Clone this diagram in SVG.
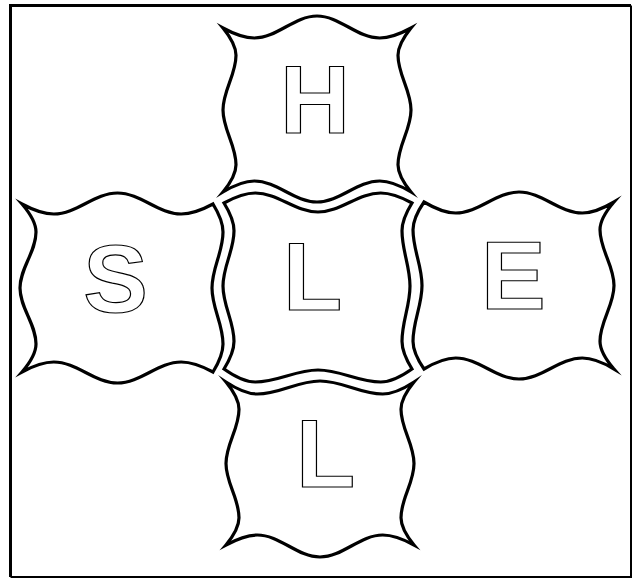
<svg xmlns="http://www.w3.org/2000/svg" width="639" height="579" viewBox="0 0 639 579">
<style>
.tile{fill:#fff;stroke:#000;stroke-width:3.2;stroke-linejoin:miter;stroke-miterlimit:20}
.let{font-family:"Liberation Sans",Arial,sans-serif;font-weight:bold;font-size:97px;fill:#fff;stroke:#000;stroke-width:1.2}
</style>
<rect x="0" y="0" width="639" height="579" fill="#fff"/>
<g id="frame">
<path d="M631 5.5 V577 H10.5" fill="none" stroke="#000" stroke-width="2"/>
<path d="M10.5 577 V5.5 H631" fill="none" stroke="#000" stroke-width="3"/>
</g>
<g id="connectors"></g>
<g id="node-H">
<path class="tile" d="M223 28 C234 34 244.9 38 254.3 38 C276.9 38 294.4 16 317 16 C339.6 16 357.1 38 379.7 38 C389.1 38 400 34 411 28
C403.2 37.6 398 47.1 398 55.3 C398 75 411 90.3 411 110 C411 129.7 398 145 398 164.7 C398 172.9 403.2 182.4 411 192
C400 185.4 389.1 181 379.7 181 C357.1 181 339.6 202 317 202 C294.4 202 276.9 181 254.3 181 C244.9 181 234 185.4 223 192
C230.8 182.4 236 172.9 236 164.7 C236 145 223 129.7 223 110 C223 90.3 236 75 236 55.3 C236 47.1 230.8 37.6 223 28 Z"/>
<text class="let" x="280" y="133">H</text>
</g>
<g id="node-S">
<path class="tile" d="M22 204 C33.1 210 44.3 214 53.8 214 C76.7 214 94.6 193 117.5 193 C140.4 193 158.3 214 181.2 214 C190.7 214 201.9 210 213 204
C219 213.8 223 223.6 223 232 C223 252.2 212 267.8 212 288 C212 308.2 223 323.8 223 344 C223 352.4 219 362.2 213 372
C201.9 366 190.7 362 181.2 362 C158.3 362 140.4 383 117.5 383 C94.6 383 76.7 362 53.8 362 C44.3 362 33.1 366 22 372
C30.4 362.2 36 352.4 36 344 C36 323.8 20 308.2 20 288 C20 267.8 36 252.2 36 232 C36 223.6 30.4 213.8 22 204 Z"/>
<text class="let" x="115.5" y="312" text-anchor="middle">S</text>
</g>
<g id="node-L-center">
<path class="tile" d="M224 203 C235 197 245.9 193 255.3 193 C277.9 193 295.4 212 318 212 C340.6 212 358.1 193 380.7 193 C390.1 193 401 197 412 203
C406 212.7 402 222.4 402 230.7 C402 250.6 410 266.1 410 286 C410 305.9 402 321.4 402 341.3 C402 349.6 406 359.3 412 369
C401 376.8 390.1 382 380.7 382 C358.1 382 340.6 370 318 370 C295.4 370 277.9 382 255.3 382 C245.9 382 235 376.8 224 369
C230 359.3 234 349.6 234 341.3 C234 321.4 223 305.9 223 286 C223 266.1 234 250.6 234 230.7 C234 222.4 230 212.7 224 203 Z"/>
<text class="let" x="283" y="310">L</text>
</g>
<g id="node-E">
<path class="tile" d="M424 202 C435.1 208.6 446.2 213 455.7 213 C478.5 213 496.2 192 519 192 C541.8 192 559.5 213 582.3 213 C591.8 213 602.9 208.6 614 202
C605.6 211.7 600 221.5 600 229.8 C600 249.8 614 265.5 614 285.5 C614 305.5 600 321.2 600 341.2 C600 349.5 605.6 359.3 614 369
C602.9 362.4 591.8 358 582.3 358 C559.5 358 541.8 379 519 379 C496.2 379 478.5 358 455.7 358 C446.2 358 435.1 362.4 424 369
C417.4 359.3 413 349.5 413 341.2 C413 321.2 422 305.5 422 285.5 C422 265.5 413 249.8 413 229.8 C413 221.5 417.4 211.7 424 202 Z"/>
<text class="let" x="481" y="309">E</text>
</g>
<g id="node-L-bottom">
<path class="tile" d="M226 382 C237 389.2 247.9 394 257.3 394 C279.9 394 297.4 381 320 381 C342.6 381 360.1 394 382.7 394 C392.1 394 403 389.2 414 382
C406.2 391.5 401 401 401 409.2 C401 428.8 414 443.9 414 463.5 C414 483.1 401 498.2 401 517.8 C401 526 406.2 535.5 414 545
C403 539 392.1 535 382.7 535 C360.1 535 342.6 557 320 557 C297.4 557 279.9 535 257.3 535 C247.9 535 237 539 226 545
C233.8 535.5 239 526 239 517.8 C239 498.2 226 483.1 226 463.5 C226 443.9 239 428.8 239 409.2 C239 401 233.8 391.5 226 382 Z"/>
<text class="let" x="296" y="487">L</text>
</g>
</svg>
